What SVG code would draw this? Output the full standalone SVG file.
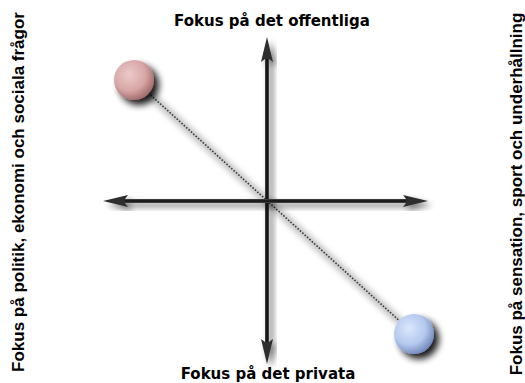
<svg xmlns="http://www.w3.org/2000/svg" width="525" height="383" viewBox="0 0 525 383">
  <defs>
    <filter id="shadow" x="-30%" y="-30%" width="160%" height="160%">
      <feGaussianBlur in="SourceAlpha" stdDeviation="3"/>
      <feOffset dx="4" dy="4" result="b"/>
      <feComponentTransfer><feFuncA type="linear" slope="0.55"/></feComponentTransfer>
      <feMerge><feMergeNode/><feMergeNode in="SourceGraphic"/></feMerge>
    </filter>
    <filter id="ballShadow" x="-50%" y="-50%" width="200%" height="200%">
      <feGaussianBlur in="SourceAlpha" stdDeviation="3.5"/>
      <feOffset dx="5" dy="5"/>
      <feComponentTransfer><feFuncA type="linear" slope="0.9"/></feComponentTransfer>
      <feMerge><feMergeNode/><feMergeNode in="SourceGraphic"/></feMerge>
    </filter>
    <filter id="lineBlur" x="-10%" y="-10%" width="120%" height="120%">
      <feGaussianBlur stdDeviation="3"/>
    </filter>
    <radialGradient id="pink" cx="0.38" cy="0.36" r="0.68">
      <stop offset="0" stop-color="#eccaca"/>
      <stop offset="0.6" stop-color="#d8a6a6"/>
      <stop offset="1" stop-color="#a06868"/>
    </radialGradient>
    <radialGradient id="blue" cx="0.38" cy="0.36" r="0.68">
      <stop offset="0" stop-color="#dbe7fb"/>
      <stop offset="0.6" stop-color="#b4c9ee"/>
      <stop offset="1" stop-color="#7088b8"/>
    </radialGradient>
    <path id="head" d="M0,0 L6,25 L2,22 L-2,22 L-6,25 Z"/>
    <style>
      .shaft { stroke: #3a3a3a; stroke-width: 4; fill: none; }
      .core { stroke: #111; stroke-width: 1.6; fill: none; }
      .head { fill: #2e2e2e; }
      .lbl { font-family: "DejaVu Sans", "Liberation Sans", sans-serif; font-weight: bold; font-size: 15px; fill: #000; text-anchor: middle; }
      .vlbl { font-family: "Liberation Sans", Arial, sans-serif; font-weight: bold; font-size: 17px; fill: #000; text-anchor: middle; }
      .dots { stroke: #3a3a3a; stroke-width: 1.6; stroke-dasharray: 1.6 1.6; fill: none; }
    </style>
  </defs>
  <rect width="525" height="383" fill="#fff"/>

  <g id="connectors">
    <g id="dotted-line">
      <line x1="134" y1="80" x2="414" y2="334" stroke="#000" stroke-opacity="0.3" stroke-width="6" filter="url(#lineBlur)" transform="translate(4,4)"/>
      <line class="dots" x1="134" y1="80" x2="414" y2="334"/>
    </g>
    <g id="axis-vertical" filter="url(#shadow)">
      <line class="shaft" x1="267" y1="58" x2="267" y2="342"/>
      <line class="core" x1="267" y1="58" x2="267" y2="342"/>
      <use href="#head" class="head" transform="translate(267,37)"/>
      <use href="#head" class="head" transform="translate(267,364) rotate(180)"/>
    </g>
    <g id="axis-horizontal" filter="url(#shadow)">
      <line class="shaft" x1="124" y1="201" x2="407" y2="201"/>
      <line class="core" x1="124" y1="201" x2="407" y2="201"/>
      <use href="#head" class="head" transform="translate(103,201) rotate(-90)"/>
      <use href="#head" class="head" transform="translate(428,201) rotate(90)"/>
    </g>
  </g>

  <g id="node-pink">
    <circle cx="134" cy="80" r="20" fill="url(#pink)" filter="url(#ballShadow)"/>
  </g>
  <g id="node-blue">
    <circle cx="414" cy="334" r="20" fill="url(#blue)" filter="url(#ballShadow)"/>
  </g>

  <g id="label-top"><text class="lbl" x="272" y="26">Fokus på det offentliga</text></g>
  <g id="label-bottom"><text class="lbl" x="268" y="379">Fokus på det privata</text></g>
  <g id="label-left"><text class="vlbl" transform="translate(24,192) rotate(-90)">Fokus på politik, ekonomi och sociala frågor</text></g>
  <g id="label-right"><text class="vlbl" transform="translate(522,194) rotate(-90)">Fokus på sensation, sport och underhållning</text></g>
</svg>
